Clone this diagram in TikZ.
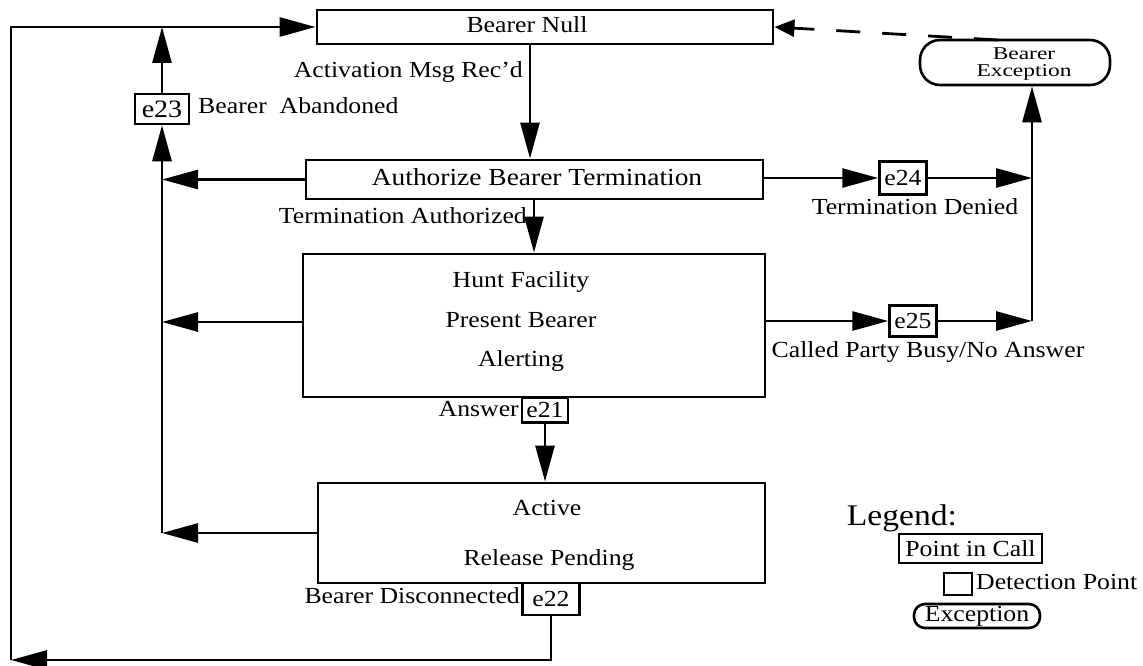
\documentclass[tikz,border=0pt]{standalone}
\usepackage{fontspec}
\setmainfont{Liberation Serif}[FakeStretch=1.12]
\newfontfamily\excfont{Liberation Serif}[FakeStretch=1.3]
\usetikzlibrary{arrows.meta}
\begin{document}
\begin{tikzpicture}[x=1pt,y=-1pt,
  txt/.style={font=\fontsize{23}{26}\selectfont, inner sep=0pt, text height=16pt, text depth=5pt},
  pic/.style={draw, line width=2.9pt, inner sep=0pt},
  dp/.style={draw, line width=2.5pt, inner sep=0pt, font=\fontsize{23}{26}\selectfont},
  conn/.style={line width=2.8pt},
  arr/.style={conn, -{Triangle[length=36pt,width=19pt]}},
  exc/.style={draw, line width=2.6pt, inner sep=0pt},
]
\useasboundingbox (0,0) rectangle (1143,666);

% points in call
\node[pic, minimum width=456pt, minimum height=34pt] (bn) at (545,27) {};
\node[pic, minimum width=457pt, minimum height=39pt] (auth) at (534.5,179.5) {};
\node[pic, minimum width=462pt, minimum height=143pt] (hunt) at (534,325.5) {};
\node[pic, minimum width=447pt, minimum height=100pt] (act) at (541.5,533) {};
\node[exc, rounded corners=20pt, minimum width=190pt, minimum height=45pt] (be) at (1015,62.5) {};

\node[txt] (bntext) at (527,27) {Bearer Null};
\node[txt, font=\fontsize{24.5}{26}\selectfont] (authtext) at (537,180) {Authorize Bearer Termination};
\node[txt] (hunt1) at (521,282) {Hunt Facility};
\node[txt] (hunt2) at (521,322) {Present Bearer};
\node[txt] (hunt3) at (521,361) {Alerting};
\node[txt] (act1) at (547,510) {Active};
\node[txt] (act2) at (549,560) {Release Pending};
\node[font=\excfont\fontsize{18}{16.5}\selectfont, align=center, inner sep=0pt] (betext) at (1024,64) {Bearer\\Exception};

% detection points
\node[dp, font=\fontsize{25}{26}\selectfont, minimum width=54pt, minimum height=30pt] (e23) at (162,109) {e23};
\node[dp, minimum width=47pt, minimum height=33pt] (e24) at (903,178) {e24};
\node[dp, minimum width=47pt, minimum height=31pt] (e25) at (913,321) {e25};
\node[dp, minimum width=46pt, minimum height=25pt] (e21) at (545,410) {e21};
\node[dp, minimum width=57pt, minimum height=32pt] (e22) at (551,599) {e22};

% transition labels
\node[txt, anchor=east] (lact) at (523,72) {Activation Msg Rec'd};
\node[txt, anchor=west] (laban) at (198,108) {Bearer\ \ Abandoned};
\node[txt, anchor=east] (lauth) at (527,218) {Termination Authorized};
\node[txt] (lden) at (915,209) {Termination Denied};
\node[txt] (lbusy) at (928,352) {Called Party Busy/No Answer};
\node[txt, anchor=east] (lans) at (519,411) {Answer};
\node[txt, anchor=east] (ldisc) at (520,598) {Bearer Disconnected};

% routing columns and rows
\coordinate (colA) at (530,0);
\coordinate (colB) at (534,0);
\coordinate (inner) at (162,0);
\coordinate (outer) at (11,0);
\coordinate (right) at (1032,0);
\coordinate (bottom) at (0,660);
\coordinate (rowH) at (0,322);
\coordinate (dstart) at (998,40);

% main flow
\draw[arr] (bn.south -| colA) -- (auth.north -| colA);
\draw[arr] (auth.south -| colB) -- (hunt.north -| colB);
\draw[arr] (e21.south) -- (act.north -| e21.south);

% abandon paths
\draw[arr] (auth.west) -- (inner |- auth.west);
\draw[arr] (hunt.west |- rowH) -- (inner |- rowH);
\draw[arr] (act.west) -- (inner |- act.west);
\draw[arr] (inner |- act.west) -- (e23.south);
\draw[arr] (e23.north) -- (e23.north |- bn.west);

% disconnect loop
\draw[arr] (e22.south) |- (outer |- bottom);
\draw[arr] (outer |- bottom) -- (outer |- bn.west) -- (bn.west);

% exception paths
\draw[arr] (auth.east |- e24.west) -- (e24.west);
\draw[arr] (e24.east) -- (right |- e24.east);
\draw[arr] (hunt.east |- e25.west) -- (e25.west);
\draw[arr] (e25.east) -- (right |- e25.east);
\draw[arr] (right |- e25.east) -- (right |- be.south);
\draw[conn, dash pattern=on 24pt off 22pt, -{Triangle[length=20pt,width=17pt]}] (dstart) -- (bn.east);

% legend
\node[font=\fontsize{30}{32}\selectfont, inner sep=0pt] (leg) at (902,518) {Legend:};
\node[pic, font=\fontsize{23}{26}\selectfont, minimum width=143pt, minimum height=29pt] (lpic) at (970.5,548.5) {Point in Call};
\node[dp, minimum width=28pt, minimum height=22pt] (ldp) at (958,584) {};
\node[txt, anchor=west] (ldptext) at (976,584) {Detection Point};
\node[exc, font=\fontsize{23}{26}\selectfont, rounded corners=11pt, minimum width=126pt, minimum height=24pt] (lexc) at (977,616) {Exception};
\end{tikzpicture}
\end{document}
